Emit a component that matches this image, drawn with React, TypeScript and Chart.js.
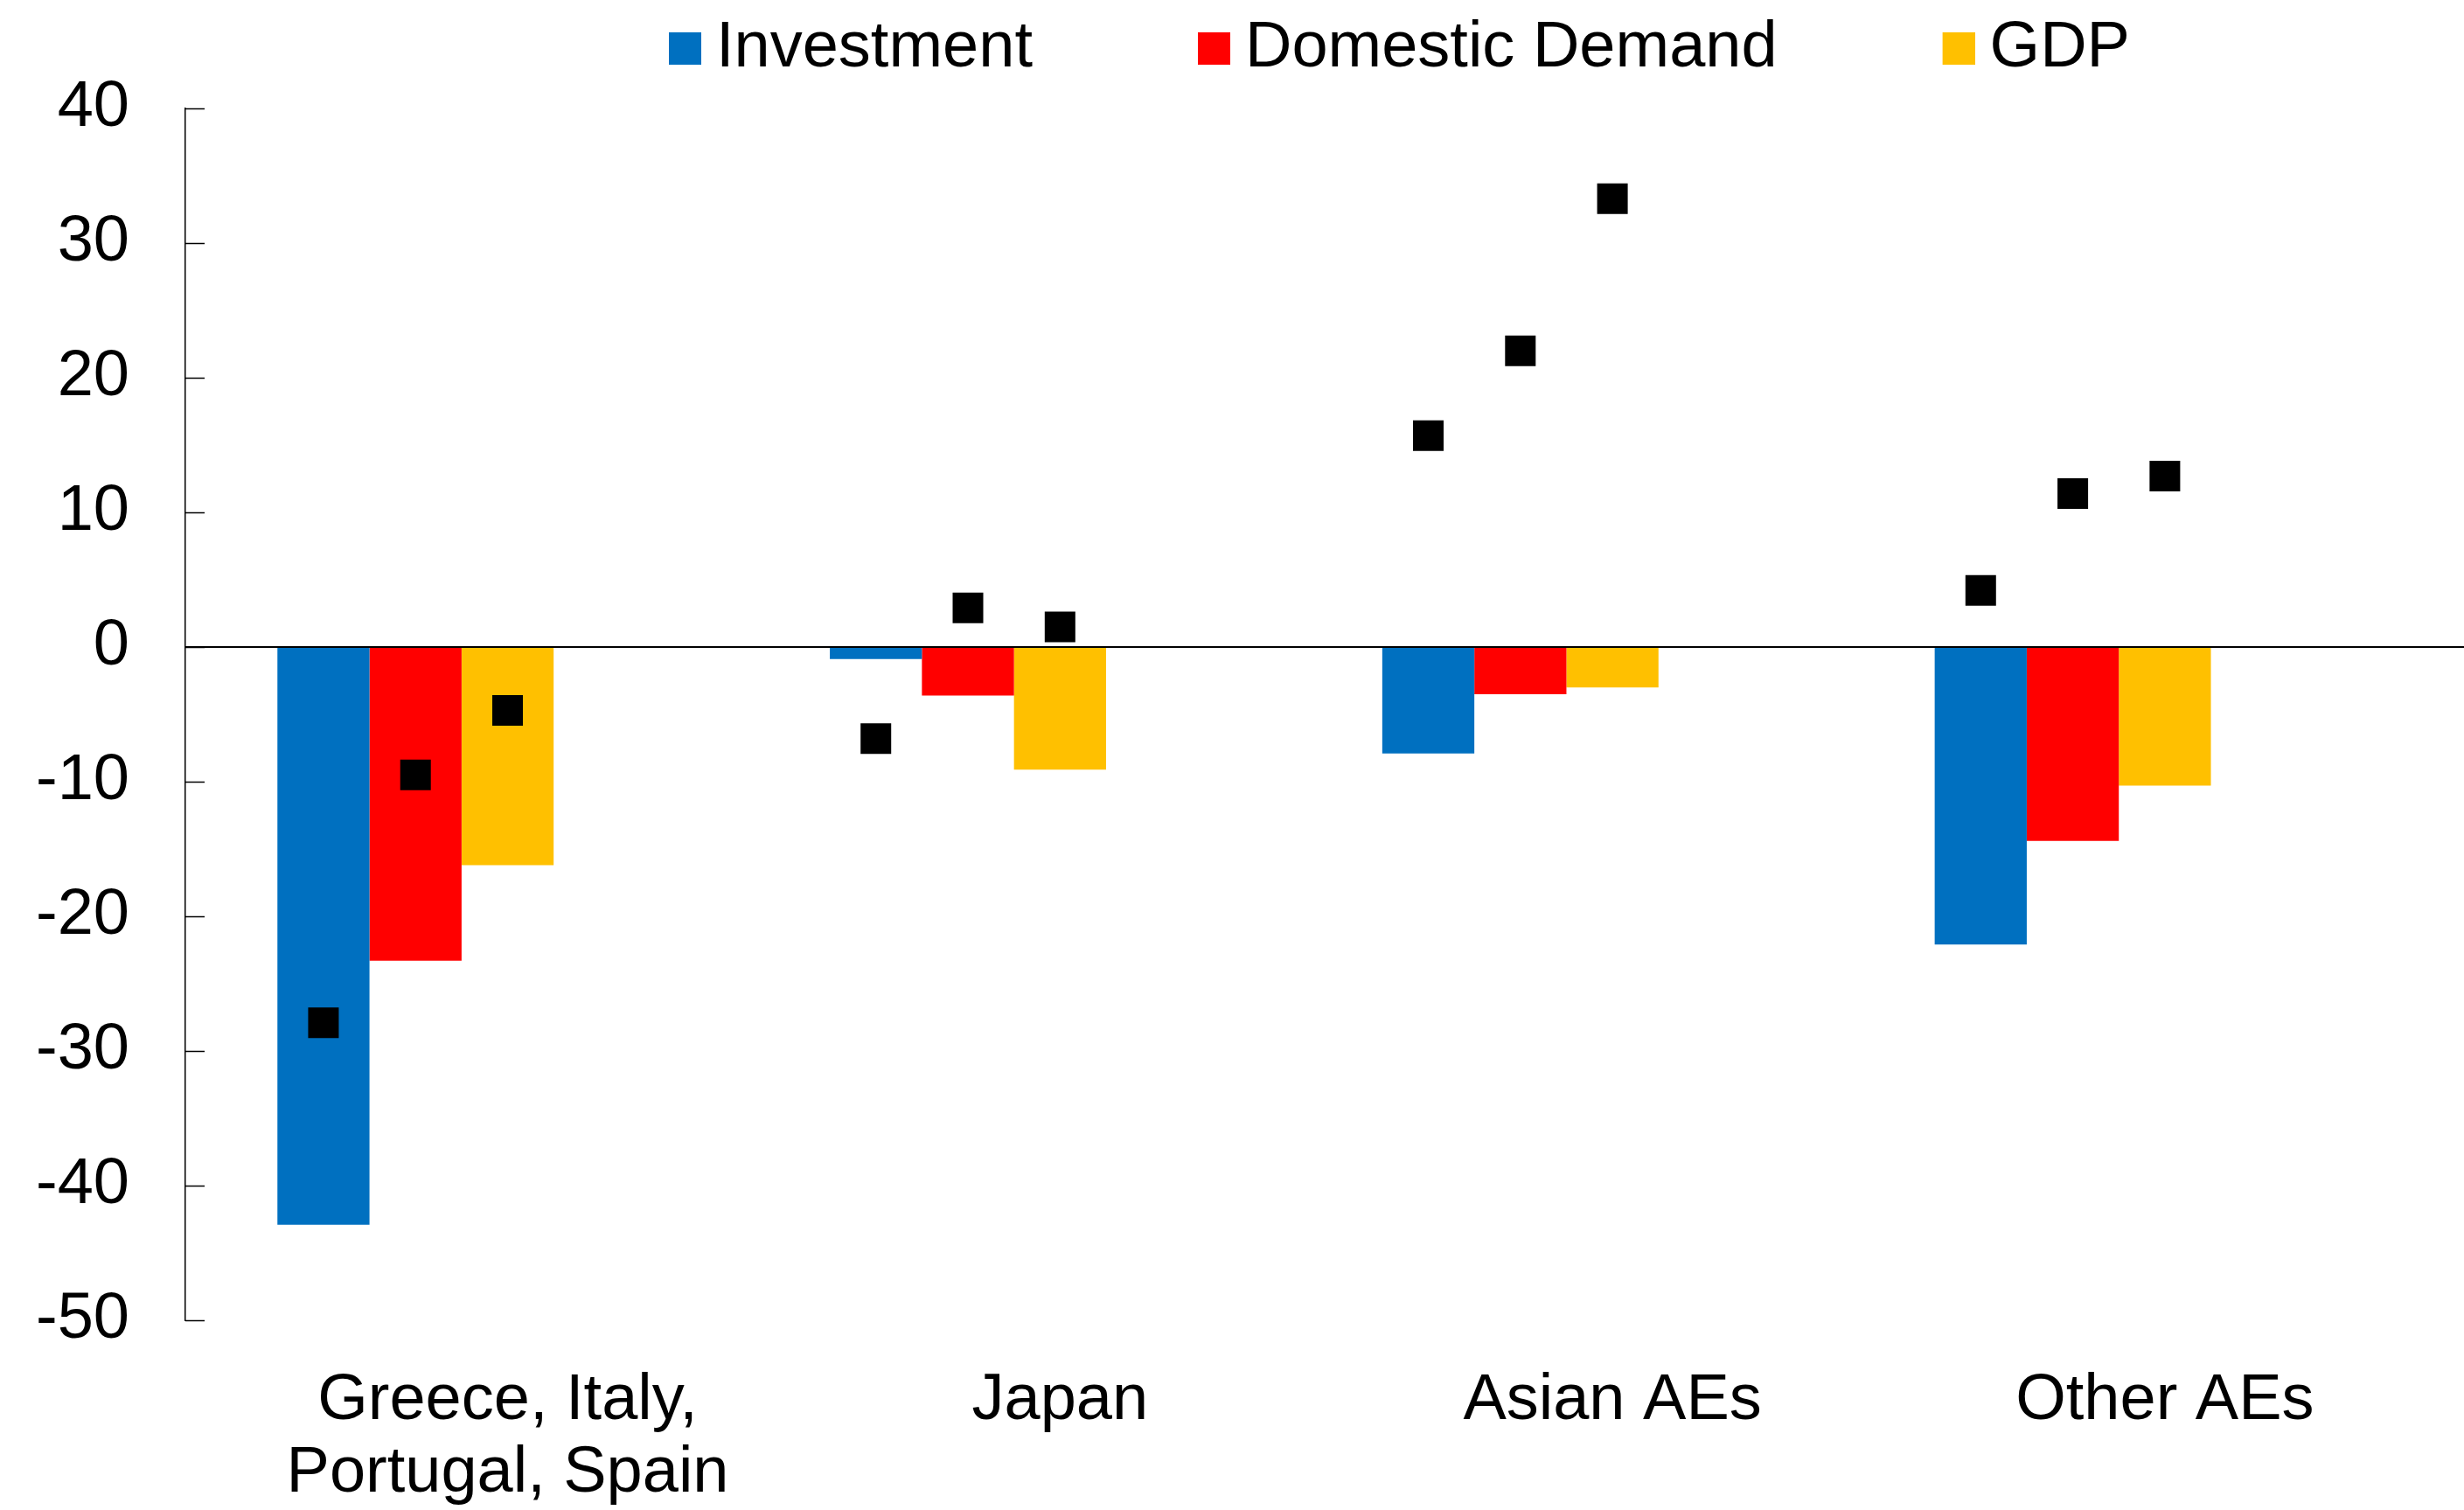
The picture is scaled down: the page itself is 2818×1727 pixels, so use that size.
import React, { useEffect, useRef } from 'react';
import { Chart, registerables } from 'chart.js';

Chart.register(...registerables);

// ---- data ----
const categories: (string | string[])[] = [['Greece, Italy,', 'Portugal, Spain'], 'Japan', 'Asian AEs', 'Other AEs'];
const seriesNames = ['Investment', 'Domestic Demand', 'GDP'];
const investmentBars = [-42.9, -0.9, -7.9, -22.1];
const domesticDemandBars = [-23.3, -3.6, -3.5, -14.4];
const gdpBars = [-16.2, -9.1, -3.0, -10.3];
const investmentMarkers = [-27.9, -6.8, 15.7, 4.2];
const domesticDemandMarkers = [-9.5, 2.9, 22.0, 11.4];
const gdpMarkers = [-4.7, 1.5, 33.3, 12.7];
const yTickValues = [40, 30, 20, 10, 0, -10, -20, -30, -40, -50];

// ---- styles / layout ----
const colors = ['#0070C0', '#FF0000', '#FFC000'];
const FONT = "'Liberation Sans', Arial, Helvetica, sans-serif";
const W = 2818;
const H = 1727;
const SLOT = 1 / 6; // each category = 5 bar slots + 1 gap slot
const BAR_GROUP_SHIFT = -SLOT; // 3 bars occupy the first 3 of 5 slots
const X_MIN = -0.5833;
const X_MAX = 3.5415;
const LEGEND_PAD = 189;
const LEGEND_LEFT = 765;
const LEGEND_TOP = 18.5;
const LEGEND_BOX = 37;
const LEGEND_BOX_SLOT = 17; // space the legend reserves before the text gap

const barSeries = [investmentBars, domesticDemandBars, gdpBars];
const markerSeries = [investmentMarkers, domesticDemandMarkers, gdpMarkers];

function makeLegendSwatch(color: string): HTMLCanvasElement {
  // square swatch, offset so it starts at the item's left edge
  const shift = LEGEND_BOX - LEGEND_BOX_SLOT;
  const c = document.createElement('canvas');
  c.width = LEGEND_BOX + shift;
  c.height = LEGEND_BOX;
  const g = c.getContext('2d')!;
  g.fillStyle = color;
  g.fillRect(shift, 0, LEGEND_BOX, LEGEND_BOX);
  return c;
}

const axisDecor = {
  id: 'axisDecor',
  afterDatasetsDraw(chart: any) {
    const { ctx, chartArea, scales } = chart;
    const y = scales.y;
    ctx.save();
    ctx.strokeStyle = '#000';
    ctx.lineWidth = 1.5;
    y.ticks.forEach((t: any) => {
      const py = Math.round(y.getPixelForValue(t.value)) + 0.5;
      ctx.beginPath();
      ctx.moveTo(chartArea.left, py);
      ctx.lineTo(chartArea.left + 22, py);
      ctx.stroke();
    });
    ctx.lineWidth = 2.2;
    const z = Math.round(y.getPixelForValue(0));
    ctx.beginPath();
    ctx.moveTo(chartArea.left, z);
    ctx.lineTo(chartArea.right, z);
    ctx.stroke();
    ctx.restore();
  },
};

const legendPlacement = {
  id: 'legendPlacement',
  beforeDraw(chart: any) {
    const lg = chart.legend;
    if (!lg) return;
    lg.left = LEGEND_LEFT - LEGEND_PAD;
    lg.right = chart.width;
    lg.width = lg.right - lg.left;
    lg.top = LEGEND_TOP - LEGEND_PAD;
  },
};

export default function App() {
  const canvasRef = useRef<HTMLCanvasElement | null>(null);

  useEffect(() => {
    if (!canvasRef.current) return;
    Chart.defaults.font.family = FONT;
    Chart.defaults.color = '#000';

    const swatches = colors.map(makeLegendSwatch);

    const barDatasets = barSeries.map((vals, j) => ({
      type: 'bar' as const,
      label: seriesNames[j],
      data: vals.map((v, i) => ({ x: i + BAR_GROUP_SHIFT, y: v })),
      backgroundColor: colors[j],
      borderWidth: 0,
      categoryPercentage: 3 * SLOT,
      barPercentage: 1,
      order: 2,
    }));

    const markerDatasets = markerSeries.map((vals, j) => ({
      type: 'scatter' as const,
      label: seriesNames[j] + ' marker',
      data: vals.map((v, i) => ({ x: i - 2 * SLOT + j * SLOT, y: v })),
      backgroundColor: '#000',
      borderColor: '#000',
      borderWidth: 0,
      pointStyle: 'rect',
      pointRadius: 24.75,
      pointHoverRadius: 24.75,
      showLine: false,
      order: 1,
    }));

    const chart = new Chart(canvasRef.current, {
      type: 'bar',
      data: { datasets: [...barDatasets, ...markerDatasets] as any },
      options: {
        responsive: false,
        animation: false,
        devicePixelRatio: 1,
        layout: { autoPadding: false, padding: { left: 0, right: 0, top: 0, bottom: 0 } },
        plugins: {
          tooltip: { enabled: false },
          legend: {
            position: 'top',
            align: 'start',
            maxHeight: 124,
            labels: {
              usePointStyle: true,
              boxWidth: LEGEND_BOX_SLOT,
              boxHeight: LEGEND_BOX,
              padding: LEGEND_PAD,
              color: '#000',
              font: { size: 74, family: FONT },
              generateLabels: (ch: any) => {
                const base = (Chart.defaults.plugins.legend.labels as any).generateLabels(ch);
                return base
                  .filter((it: any) => ch.data.datasets[it.datasetIndex].type === 'bar')
                  .map((it: any) => ({ ...it, pointStyle: swatches[it.datasetIndex], lineWidth: 0 }));
              },
            },
          },
        },
        scales: {
          x: {
            type: 'linear',
            min: X_MIN,
            max: X_MAX,
            offset: false,
            afterBuildTicks: (s: any) => {
              s.ticks = categories.map((_, i) => ({ value: i }));
            },
            afterFit: (s: any) => {
              s.height = 217;
              s.paddingLeft = 0;
              s.paddingRight = 0;
            },
            ticks: {
              autoSkip: false,
              maxRotation: 0,
              minRotation: 0,
              padding: 51,
              color: '#000',
              font: { size: 74, family: FONT, lineHeight: 1.12 },
              callback: (v: any) => categories[Math.round(Number(v))] as any,
            },
            grid: { display: false, drawTicks: false, offset: false },
            border: { display: false },
          },
          y: {
            type: 'linear',
            min: -50,
            max: 40,
            afterBuildTicks: (s: any) => {
              s.ticks = yTickValues.map((v) => ({ value: v }));
            },
            afterFit: (s: any) => {
              s.width = 212;
            },
            ticks: {
              padding: 64,
              color: '#000',
              font: { size: 74, family: FONT },
            },
            grid: { display: false, drawTicks: false },
            border: { display: true, color: '#000', width: 1.5 },
          },
        },
      } as any,
      plugins: [axisDecor, legendPlacement],
    });

    return () => chart.destroy();
  }, []);

  return (
    <div style={{ position: 'absolute', left: 0, top: 0, width: W, height: H, background: '#fff' }}>
      <canvas ref={canvasRef} width={W} height={H} style={{ display: 'block', width: W, height: H }} />
    </div>
  );
}
